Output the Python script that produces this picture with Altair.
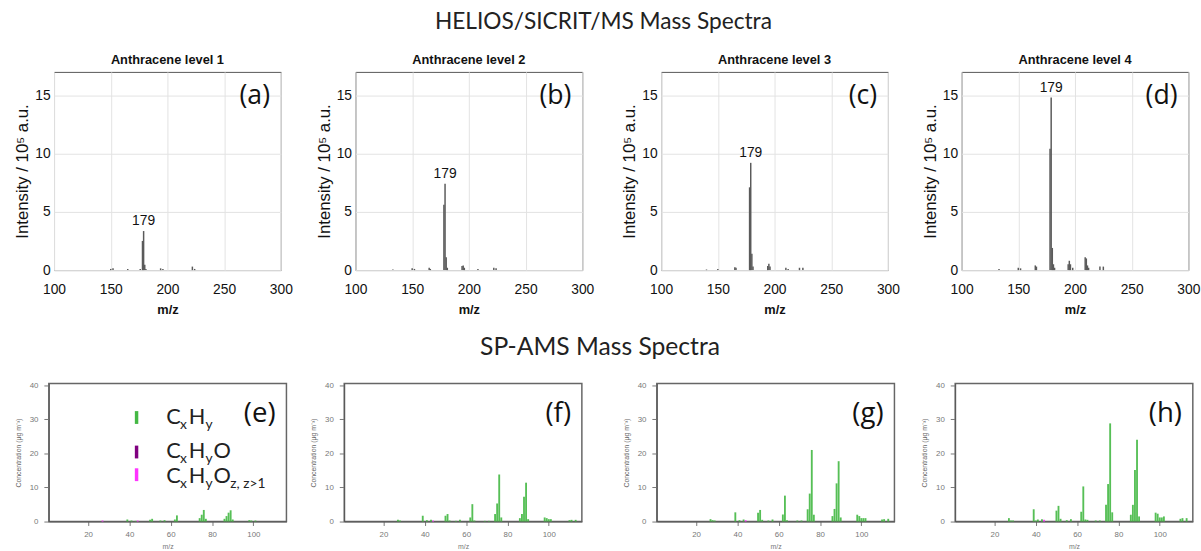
import altair as alt
import pandas as pd

# ---------------- HELIOS/SICRIT/MS spectra (intensity in 1e5 a.u.) ----------------
HS_MZ_A = [150, 152, 165, 176, 178, 179, 180, 181, 194, 196, 222, 224]
HS_INT_A = [0.1, 0.15, 0.1, 0.1, 2.5, 3.35, 0.45, 0.1, 0.15, 0.1, 0.3, 0.1]

HS_MZ_B = [133, 150, 152, 165, 166, 178, 179, 180, 181, 194, 195, 196, 208, 222, 224]
HS_INT_B = [0.05, 0.15, 0.1, 0.2, 0.1, 5.6, 7.4, 1.1, 0.2, 0.35, 0.4, 0.2, 0.1, 0.2, 0.15]

HS_MZ_C = [140, 150, 165, 166, 178, 179, 180, 181, 194, 195, 196, 210, 212, 222, 225]
HS_INT_C = [0.05, 0.1, 0.25, 0.2, 7.1, 9.2, 1.4, 0.3, 0.35, 0.55, 0.3, 0.2, 0.1, 0.2, 0.2]

HS_MZ_D = [133, 150, 152, 165, 166, 178, 179, 180, 181, 182, 194, 195, 196, 198,
           209, 210, 211, 212, 222, 225]
HS_INT_D = [0.1, 0.2, 0.15, 0.4, 0.3, 10.4, 14.8, 1.9, 0.5, 0.2, 0.5, 0.8, 0.5, 0.2,
            1.1, 1.0, 0.4, 0.2, 0.3, 0.3]

TOP_TITLES = ["Anthracene level 1", "Anthracene level 2", "Anthracene level 3", "Anthracene level 4"]
TOP_LETTERS = ["(a)", "(b)", "(c)", "(d)"]
LABELLED_PEAK = 179

# ---------------- SP-AMS spectra (concentration, ug m-3) ----------------
FAMILIES = ["CxHy", "CxHyO", "CxHyOz"]
FAMILY_COLORS = ["#44b844", "#800080", "#ff33ff"]

AMS_MZ_E = [27, 39, 41, 43, 44, 50, 51, 55, 57, 62, 63, 74, 75, 76, 77, 86, 87, 88, 89, 90, 98, 99, 101]
AMS_CONC_E = [0.3, 0.6, 0.3, 0.2, 0.3, 0.5, 0.8, 0.3, 0.4, 0.6, 1.8, 1.0, 2.0, 3.4, 0.8,
              0.8, 1.6, 2.6, 3.3, 0.6, 0.4, 0.3, 0.3]
AMS_FAM_E = ["CxHyOz", "CxHy", "CxHy", "CxHy", "CxHyOz", "CxHy", "CxHy", "CxHy", "CxHy", "CxHy", "CxHy",
             "CxHy", "CxHy", "CxHy", "CxHy", "CxHy", "CxHy", "CxHy", "CxHy", "CxHy", "CxHy", "CxHy", "CxHy"]

AMS_MZ_F = [27, 28, 39, 41, 43, 44, 50, 51, 52, 55, 57, 62, 63, 64, 69, 71, 74, 75, 76, 77,
            86, 87, 88, 89, 90, 98, 99, 100, 101, 110, 111, 113]
AMS_CONC_F = [0.5, 0.3, 1.7, 0.4, 0.5, 0.3, 1.7, 2.2, 0.3, 0.2, 0.5, 1.2, 5.1, 0.3, 0.2, 0.2,
              2.2, 5.3, 13.8, 1.2, 1.0, 2.2, 7.3, 11.4, 0.7, 1.2, 1.0, 0.7, 0.7, 0.4, 0.5, 0.5]
AMS_FAM_F = ["CxHy"] * 5 + ["CxHyOz"] + ["CxHy"] * 26

AMS_MZ_G = [27, 28, 29, 39, 41, 43, 44, 50, 51, 52, 55, 57, 62, 63, 64, 69, 71, 74, 75, 76, 77,
            86, 87, 88, 89, 90, 98, 99, 100, 101, 102, 110, 111, 113]
AMS_CONC_G = [0.7, 0.4, 0.3, 2.7, 0.4, 0.6, 0.4, 2.6, 3.4, 0.5, 0.3, 0.6, 2.1, 7.6, 0.4, 0.3, 0.3,
              3.6, 8.2, 21.0, 2.0, 1.6, 3.7, 11.2, 17.7, 1.2, 2.0, 1.6, 1.0, 1.0, 1.0, 0.6, 0.7, 0.8]
AMS_FAM_G = ["CxHy"] * 6 + ["CxHyOz"] + ["CxHy"] * 27

AMS_MZ_H = [27, 28, 29, 39, 40, 41, 43, 44, 50, 51, 52, 55, 57, 62, 63, 64, 65, 69, 71, 74, 75, 76, 77,
            86, 87, 88, 89, 90, 98, 99, 100, 101, 102, 110, 111, 113]
AMS_CONC_H = [1.0, 0.3, 0.3, 3.6, 0.3, 0.6, 0.7, 0.5, 3.2, 4.6, 0.8, 0.4, 0.7, 2.9, 10.3, 0.6, 0.5,
              0.3, 0.3, 4.9, 11.0, 28.8, 2.7, 2.0, 4.9, 15.1, 24.0, 1.5, 2.6, 2.3, 1.2, 1.2, 1.5,
              0.8, 1.0, 1.0]
AMS_FAM_H = ["CxHy"] * 7 + ["CxHyOz"] + ["CxHy"] * 28

BOTTOM_LETTERS = ["(e)", "(f)", "(g)", "(h)"]

TOP_W, TOP_H = 230, 201
BOT_W, BOT_H = 241, 140
SANS = "Liberation Sans"
HUMAN = "Lato"
LETTER_FONT = "Open Sans"


def top_panel(mz, inten, title, letter):
    df = pd.DataFrame({"mz": mz, "int": inten})
    xs = alt.Scale(domain=[100, 300], nice=False)
    ys = alt.Scale(domain=[0, 17], nice=False)
    xax = alt.Axis(values=[100, 150, 200, 250, 300], title="m/z", grid=True, gridColor="#e3e3e3",
                   ticks=False, tickSize=0, domain=False, labelFlush=False, labelFont=SANS,
                   labelFontSize=14, labelColor="#111", labelPadding=13, titleFont=SANS,
                   titleFontSize=13, titleFontWeight="bold", titleColor="#111", titlePadding=7)
    yax = alt.Axis(values=[0, 5, 10, 15], title="Intensity / 10⁵ a.u.", grid=True,
                   gridColor="#e3e3e3", ticks=False, tickSize=0, domain=False, labelFont=SANS,
                   labelFontSize=14, labelColor="#111", labelPadding=4, titleFont=SANS,
                   titleFontSize=17, titleFontWeight="normal", titleColor="#111", titlePadding=3)
    base = alt.Chart(df)
    rules = base.mark_rule(color="#5a5a5a", strokeWidth=1.5).encode(
        x=alt.X("mz:Q", scale=xs, axis=xax),
        y=alt.Y("int:Q", scale=ys, axis=yax),
        y2=alt.datum(0),
    )
    lbl = base.transform_filter(alt.datum.mz == LABELLED_PEAK).mark_text(
        font=SANS, fontSize=14, baseline="bottom", dy=-3, color="#111"
    ).encode(x="mz:Q", y="int:Q", text=alt.Text("mz:Q", format="d"))
    let = alt.Chart(pd.DataFrame({"t": [letter]})).mark_text(
        font=LETTER_FONT, fontSize=27, align="right", baseline="alphabetic", color="#111"
    ).encode(x=alt.value(TOP_W - 11), y=alt.value(33), text="t:N")
    return alt.layer(rules, lbl, let).properties(
        width=TOP_W, height=TOP_H,
        title=alt.TitleParams(title, font=SANS, fontSize=13, fontWeight="bold", color="#111", offset=5),
        view=alt.ViewBackground(stroke="#555", strokeWidth=1),
    )


def bottom_panel(mz, conc, fam, letter, legend=False):
    df = pd.DataFrame({"mz": mz, "conc": conc, "fam": fam})
    xs = alt.Scale(domain=[1, 116], nice=False)
    ys = alt.Scale(domain=[0, 40.5], nice=False)
    xax = alt.Axis(values=[20, 40, 60, 80, 100], title="m/z", grid=False, tickSize=4,
                   tickColor="#777", domainColor="#555", labelFont=SANS, labelFontSize=8,
                   labelColor="#777", labelPadding=5, titleFont=SANS, titleFontSize=7,
                   titleFontWeight="normal", titleColor="#777", titlePadding=4)
    yax = alt.Axis(values=[0, 10, 20, 30, 40], title="Concentration (μg m⁻³)", grid=False,
                   tickSize=5, tickColor="#777", domainColor="#555", labelFont=SANS,
                   labelFontSize=8, labelColor="#777", labelPadding=6, titleFont=SANS,
                   titleFontSize=7, titleFontWeight="normal", titleColor="#666", titlePadding=8)
    bars = alt.Chart(df).transform_calculate(
        lo="datum.mz - 0.45", hi="datum.mz + 0.45"
    ).mark_rect(opacity=0.9).encode(
        x=alt.X("lo:Q", scale=xs, axis=xax),
        x2="hi:Q",
        y=alt.Y("conc:Q", scale=ys, axis=yax),
        y2=alt.datum(0),
        color=alt.Color("fam:N", scale=alt.Scale(domain=FAMILIES, range=FAMILY_COLORS), legend=None),
    )
    let = alt.Chart(pd.DataFrame({"t": [letter]})).mark_text(
        font=LETTER_FONT, fontSize=28, align="right", baseline="alphabetic", color="#111"
    ).encode(x=alt.value(BOT_W - 11), y=alt.value(39), text="t:N")
    layers = [bars, let]
    if legend:
        ytop = [28, 63, 86]
        for k, f in enumerate(FAMILIES):
            layers.append(
                alt.Chart(pd.DataFrame({"fam": [f]})).mark_rule(strokeWidth=3.5).encode(
                    x=alt.value(89), y=alt.value(ytop[k]), y2=alt.value(ytop[k] + 13),
                    color=alt.Color("fam:N", scale=alt.Scale(domain=FAMILIES, range=FAMILY_COLORS),
                                    legend=None),
                )
            )
        rows = [
            [("C", 0, False), ("x", 14, True), ("H", 23, False), ("y", 40, True)],
            [("C", 0, False), ("x", 14, True), ("H", 23, False), ("y", 40, True), ("O", 48, False)],
            [("C", 0, False), ("x", 14, True), ("H", 23, False), ("y", 40, True), ("O", 48, False),
             ("z, z>1", 65, True)],
        ]
        base_y = [41, 76, 101]
        for k, row in enumerate(rows):
            for txt, dx, sub in row:
                layers.append(
                    alt.Chart(pd.DataFrame({"t": [txt]})).mark_text(
                        font=HUMAN, fontSize=14 if sub else 22, align="left",
                        baseline="alphabetic", color="#222"
                    ).encode(x=alt.value(119 + dx), y=alt.value(base_y[k] + (5 if sub else 0)),
                             text="t:N")
                )
    return alt.layer(*layers).properties(
        width=BOT_W, height=BOT_H,
        view=alt.ViewBackground(stroke="#666", strokeWidth=1.5),
    )


def spacer():
    return alt.Chart(pd.DataFrame({"v": [0]})).mark_rect(opacity=0).encode(
        x=alt.value(0), x2=alt.value(1), y=alt.value(0), y2=alt.value(1)
    ).properties(width=1, height=1, view=alt.ViewBackground(stroke="transparent"))


a = top_panel(HS_MZ_A, HS_INT_A, TOP_TITLES[0], TOP_LETTERS[0])
b = top_panel(HS_MZ_B, HS_INT_B, TOP_TITLES[1], TOP_LETTERS[1])
c = top_panel(HS_MZ_C, HS_INT_C, TOP_TITLES[2], TOP_LETTERS[2])
d = top_panel(HS_MZ_D, HS_INT_D, TOP_TITLES[3], TOP_LETTERS[3])

e = bottom_panel(AMS_MZ_E, AMS_CONC_E, AMS_FAM_E, BOTTOM_LETTERS[0], legend=True)
f = bottom_panel(AMS_MZ_F, AMS_CONC_F, AMS_FAM_F, BOTTOM_LETTERS[1])
g = bottom_panel(AMS_MZ_G, AMS_CONC_G, AMS_FAM_G, BOTTOM_LETTERS[2])
h = bottom_panel(AMS_MZ_H, AMS_CONC_H, AMS_FAM_H, BOTTOM_LETTERS[3])

top_row = alt.hconcat(
    spacer(),
    alt.hconcat(
        alt.hconcat(a, b, spacing=20.7),
        alt.hconcat(c, d, spacing=19.7),
        spacing=25.7,
    ),
    spacing=3.8,
    title=alt.TitleParams("HELIOS/SICRIT/MS Mass Spectra", font=HUMAN, fontSize=23,
                          fontWeight="normal", color="#222", anchor="middle", offset=20),
)
bottom_row = alt.hconcat(
    spacer(),
    alt.hconcat(
        alt.hconcat(e, f, spacing=21.6),
        alt.hconcat(g, h, spacing=24.6),
        spacing=38.6,
    ),
    spacing=4.5,
    title=alt.TitleParams("SP-AMS Mass Spectra", font=HUMAN, fontSize=25,
                          fontWeight="normal", color="#222", anchor="middle", offset=21),
)

chart = alt.vconcat(top_row, bottom_row, spacing=17).properties(
    padding={"left": 6, "top": 7, "right": 0, "bottom": 0},
    background="white",
)

chart.save("out.html", embed_options={"renderer": "svg", "actions": False})
